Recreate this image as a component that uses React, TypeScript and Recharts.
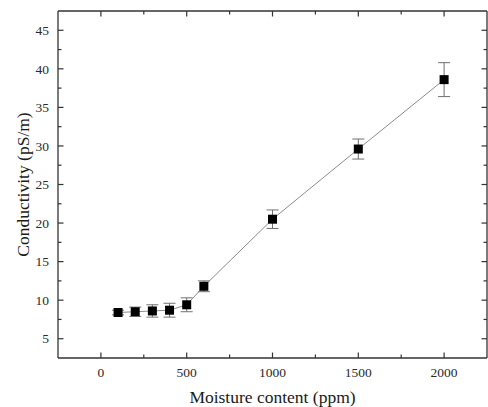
import React from 'react';
import { ComposedChart, Line, XAxis, YAxis, ErrorBar, Label } from 'recharts';

const moisture = [100, 200, 300, 400, 500, 600, 1000, 1500, 2000];
const conductivity = [8.4, 8.5, 8.6, 8.7, 9.4, 11.8, 20.5, 29.6, 38.6];
const errors = [0.3, 0.6, 0.8, 0.9, 0.9, 0.7, 1.2, 1.3, 2.2];
const xTicks = [0, 250, 500, 750, 1000, 1250, 1500, 1750, 2000];
const yTicks = [5, 7.5, 10, 12.5, 15, 17.5, 20, 22.5, 25, 27.5, 30, 32.5, 35, 37.5, 40, 42.5, 45];

const data = moisture.map((m, i) => ({ x: m, y: conductivity[i], err: errors[i] }));

const FONT = '"Liberation Serif","Times New Roman",serif';
const AXIS = '#333';
const MAJ = 5.5;
const MIN = 3.5;

const BottomTick = (p: any) => {
  const v = p.payload.value;
  const major = v % 500 === 0;
  return (
    <g>
      <line x1={p.x} y1={p.y} x2={p.x} y2={p.y - (major ? MAJ : MIN)} stroke={AXIS} strokeWidth={1.2} />
      {major && (
        <text x={p.x} y={p.y + 19} textAnchor="middle" fontFamily={FONT} fontSize={13.5} fill="#2a2a2a">
          {v}
        </text>
      )}
    </g>
  );
};

const TopTick = (p: any) => {
  const v = p.payload.value;
  const major = v % 500 === 0;
  return <line x1={p.x} y1={p.y} x2={p.x} y2={p.y + (major ? MAJ : MIN)} stroke={AXIS} strokeWidth={1.2} />;
};

const LeftTick = (p: any) => {
  const v = p.payload.value;
  const major = v % 5 === 0;
  return (
    <g>
      <line x1={p.x} y1={p.y} x2={p.x + (major ? MAJ : MIN)} y2={p.y} stroke={AXIS} strokeWidth={1.2} />
      {major && (
        <text x={p.x - 9} y={p.y} dy="0.35em" textAnchor="end" fontFamily={FONT} fontSize={13.5} fill="#2a2a2a">
          {v}
        </text>
      )}
    </g>
  );
};

const RightTick = (p: any) => {
  const v = p.payload.value;
  const major = v % 5 === 0;
  return <line x1={p.x} y1={p.y} x2={p.x - (major ? MAJ : MIN)} y2={p.y} stroke={AXIS} strokeWidth={1.2} />;
};

const SquareDot = (p: any) => {
  if (p.cx == null || p.cy == null) return <g key={p.index} />;
  return <rect key={p.index} x={p.cx - 4.5} y={p.cy - 4.5} width={9} height={9} fill="#000" />;
};

const XTitle = (p: any) => {
  const vb = p.viewBox;
  return (
    <text x={vb.x + vb.width / 2} y={vb.y + 44.5} textAnchor="middle" fontFamily={FONT} fontSize={17.5} fill="#1a1a1a">
      Moisture content (ppm)
    </text>
  );
};

const YTitle = (p: any) => {
  const vb = p.viewBox;
  const cx = 22.5;
  const cy = vb.y + vb.height / 2;
  return (
    <text
      x={cx}
      y={cy}
      transform={`rotate(-90 ${cx} ${cy})`}
      textAnchor="middle"
      dominantBaseline="central"
      fontFamily={FONT}
      fontSize={17.5}
      fill="#1a1a1a"
    >
      Conductivity (pS/m)
    </text>
  );
};

export default function App() {
  return (
    <div style={{ position: 'absolute', left: 0, top: 0 }}>
      <ComposedChart width={488} height={407} data={data} margin={{ top: 10, right: 0, bottom: 48, left: 57 }}>
        <XAxis
          xAxisId="b"
          dataKey="x"
          type="number"
          domain={[-250, 2250]}
          ticks={xTicks}
          interval={0}
          height={1}
          tickSize={0}
          tickMargin={0}
          tickLine={false}
          tick={BottomTick}
          axisLine={{ stroke: AXIS, strokeWidth: 1.3 }}
          allowDataOverflow
        >
          <Label content={XTitle} />
        </XAxis>
        <XAxis
          xAxisId="t"
          orientation="top"
          dataKey="x"
          type="number"
          domain={[-250, 2250]}
          ticks={xTicks}
          interval={0}
          height={1}
          tickSize={0}
          tickMargin={0}
          tickLine={false}
          tick={TopTick}
          axisLine={{ stroke: AXIS, strokeWidth: 1.3 }}
          allowDataOverflow
        />
        <YAxis
          yAxisId="l"
          type="number"
          domain={[2.5, 47.5]}
          ticks={yTicks}
          interval={0}
          width={1}
          tickSize={0}
          tickMargin={0}
          tickLine={false}
          tick={LeftTick}
          axisLine={{ stroke: AXIS, strokeWidth: 1.3 }}
          allowDataOverflow
        >
          <Label content={YTitle} />
        </YAxis>
        <YAxis
          yAxisId="r"
          orientation="right"
          type="number"
          domain={[2.5, 47.5]}
          ticks={yTicks}
          interval={0}
          width={1}
          tickSize={0}
          tickMargin={0}
          tickLine={false}
          tick={RightTick}
          axisLine={{ stroke: AXIS, strokeWidth: 1.3 }}
          allowDataOverflow
        />
        <Line
          xAxisId="t"
          yAxisId="r"
          dataKey="y"
          stroke="none"
          dot={false}
          activeDot={false}
          isAnimationActive={false}
        />
        <Line
          xAxisId="b"
          yAxisId="l"
          dataKey="y"
          type="linear"
          stroke="#8c8c8c"
          strokeWidth={1}
          dot={SquareDot}
          activeDot={false}
          isAnimationActive={false}
        >
          <ErrorBar dataKey="err" direction="y" width={6} stroke="#707070" strokeWidth={1} isAnimationActive={false} />
        </Line>
      </ComposedChart>
    </div>
  );
}
